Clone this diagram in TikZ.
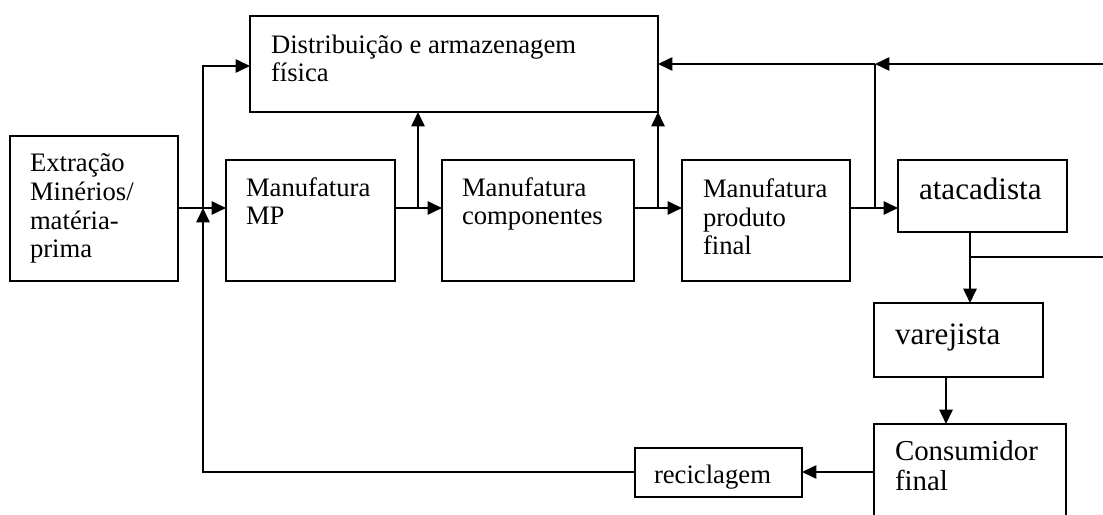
\documentclass[tikz,border=0pt]{standalone}
\usepackage{fontspec}
\setmainfont{Liberation Serif}
\usetikzlibrary{arrows.meta,fit}
\begin{document}
\begin{tikzpicture}[x=0.45pt,y=-0.45pt,
  box/.style={draw, line width=0.9pt, inner sep=0pt, outer sep=0pt},
  txt/.style={anchor=base west, inner sep=0pt, outer sep=0pt, align=left, font=\fontsize{12}{13}\selectfont},
  bigtxt/.style={txt, font=\fontsize{14}{15}\selectfont},
  midtxt/.style={txt, font=\fontsize{13}{13.5}\selectfont},
  line/.style={line width=0.9pt},
  arr/.style={line, -{Triangle[length=6.5pt,width=6pt]}}]
\useasboundingbox (0,0) rectangle (1103,515);

% boxes
\node[box, fit={(250,16) (658,112)}] (dist) {};
\node[box, fit={(10,136) (178,281)}] (ext) {};
\node[box, fit={(226,160) (395,281)}] (mp) {};
\node[box, fit={(442,160) (634,281)}] (comp) {};
\node[box, fit={(682,160) (850,281)}] (pf) {};
\node[box, fit={(898,160) (1067,232)}] (atac) {};
\node[box, fit={(874,303) (1043,377)}] (var) {};
\node[box, fit={(874,424) (1066,540)}] (cons) {};
\node[box, fit={(635,448) (802,497)}] (rec) {};

% texts (anchored at the baseline of their last line)
\node[txt] (tdist) at (271,82) {Distribuição e armazenagem\\física};
\node[txt] (text) at (30,258) {Extração\\Minérios/\\matéria-\\prima};
\node[txt] (tmp) at (246,225) {Manufatura\\MP};
\node[txt] (tcomp) at (462,225) {Manufatura\\componentes};
\node[txt] (tpf) at (703,255) {Manufatura\\produto\\final};
\node[bigtxt] (tatac) at (919,200) {atacadista};
\node[bigtxt] (tvar) at (895,345) {varejista};
\node[midtxt] (tcons) at (895,490) {Consumidor\\final};
\node[txt] (trec) at (654,483) {reciclagem};

% junctions
\coordinate (jL) at (203,208);
\coordinate (tl) at (203,66);
\coordinate (j2) at (418,208);
\coordinate (j3) at (658,208);
\coordinate (j4) at (875,208);
\coordinate (tr) at (875,64);
\coordinate (re) at (1103,64);
\coordinate (a1) at (970,257);
\coordinate (re2) at (1103,257);
\coordinate (bl) at (203,472);
\coordinate (cx) at (946,400);

% connectors
\draw[arr] (ext.east |- jL) -- (mp.west |- jL);
\draw[arr] (rec.west |- bl) -- (bl) -- (jL);
\draw[arr] (jL) |- (dist.west |- tl);
\draw[arr] (mp.east |- jL) -- (comp.west |- jL);
\draw[arr] (j2) -- (dist.south -| j2);
\draw[arr] (comp.east |- jL) -- (pf.west |- jL);
\draw[arr] (j3) -- (dist.south east);
\draw[arr] (pf.east |- jL) -- (atac.west |- jL);
\draw[line] (j4) -- (tr);
\draw[arr] (re) -- (tr);
\draw[arr] (tr) -- (dist.east);
\draw[arr] (atac.south -| a1) -- (var.north -| a1);
\draw[line] (a1) -- (re2);
\draw[arr] (var.south -| cx) -- (cons.north -| cx);
\draw[arr] (cons.west |- bl) -- (rec.east |- bl);
\end{tikzpicture}
\end{document}
